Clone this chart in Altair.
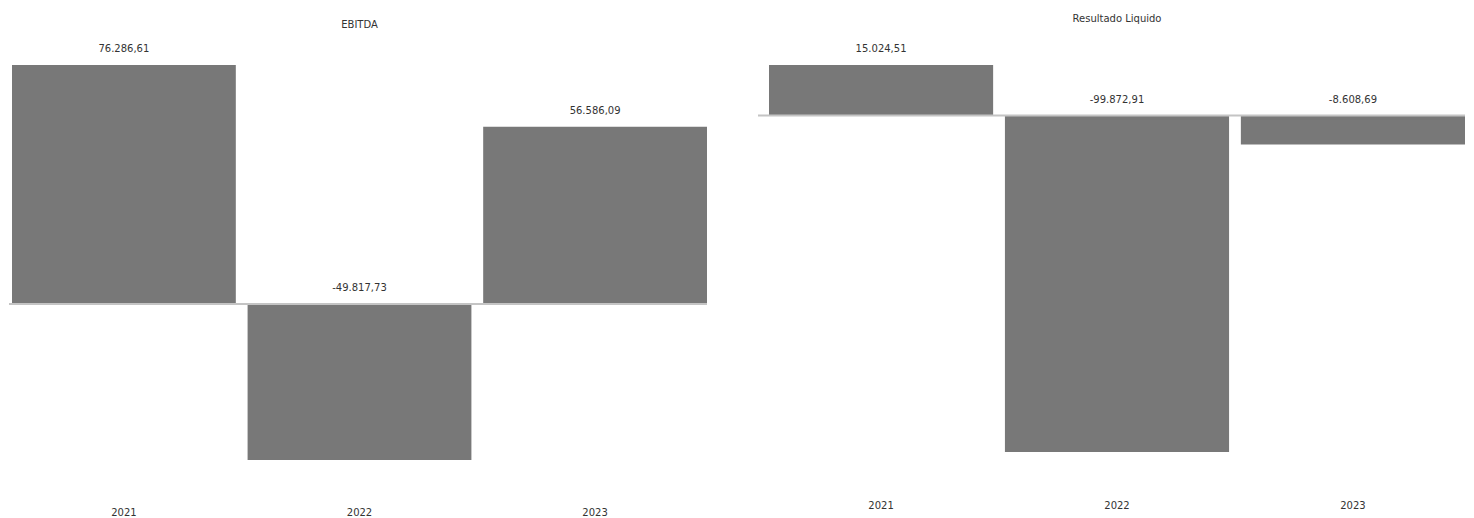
import altair as alt
import pandas as pd

years = ["2021", "2022", "2023"]
ebitda = [76286.61, -49817.73, 56586.09]
resultado = [15024.51, -99872.91, -8608.69]

BAR_COLOR = "#787878"
TEXT_COLOR = "#333333"
FONT = "DejaVu Sans"


def br(v):
    s = f"{v:,.2f}"
    return s.replace(",", "X").replace(".", ",").replace("X", ".")


def make_df(vals):
    return pd.DataFrame({
        "ano": years,
        "valor": vals,
        "topo": [max(v, 0) for v in vals],
        "rotulo": [br(v) for v in vals],
    })


def panel(vals, title, width, height, title_offset, label_pad, rule_ext):
    df = make_df(vals)
    x = alt.X("ano:N", title=None, sort=years,
              scale=alt.Scale(paddingInner=0.05, paddingOuter=0),
              axis=alt.Axis(labelAngle=0, ticks=False, domain=False,
                            labelPadding=label_pad, labelFontSize=10,
                            labelColor=TEXT_COLOR, labelFont=FONT))
    yscale = alt.Scale(nice=False, zero=True)
    base = alt.Chart(df)
    bars = base.mark_bar(color=BAR_COLOR).encode(
        x=x,
        y=alt.Y("valor:Q", title=None, scale=yscale, axis=None),
    )
    zero = alt.Chart(pd.DataFrame({"z": [0]})).mark_rule(
        color="#c4c4c4", strokeWidth=2
    ).encode(
        y=alt.Y("z:Q", scale=yscale, axis=None),
        x=alt.value(-rule_ext),
        x2=alt.value(width),
    )
    labels = base.mark_text(
        baseline="middle", dy=-16, fontSize=10, color=TEXT_COLOR, font=FONT
    ).encode(
        x=alt.X("ano:N", sort=years),
        y=alt.Y("topo:Q", scale=yscale, axis=None),
        text="rotulo:N",
    )
    return alt.layer(bars, zero, labels).properties(
        width=width,
        height=height,
        title=alt.TitleParams(title, fontSize=10, fontWeight="normal",
                              font=FONT, color=TEXT_COLOR, anchor="middle",
                              offset=title_offset),
    )


left = panel(ebitda, "EBITDA", 695, 395, 14, 47, 3)
right = panel(resultado, "Resultado Liquido", 696, 387, 20, 48, 11)

chart = alt.hconcat(left, right, spacing=49).properties(
    padding={"left": 0, "top": 6, "right": 0, "bottom": 0}
).configure_view(stroke=None)

chart.save("out.html", embed_options={"renderer": "svg", "actions": False})
